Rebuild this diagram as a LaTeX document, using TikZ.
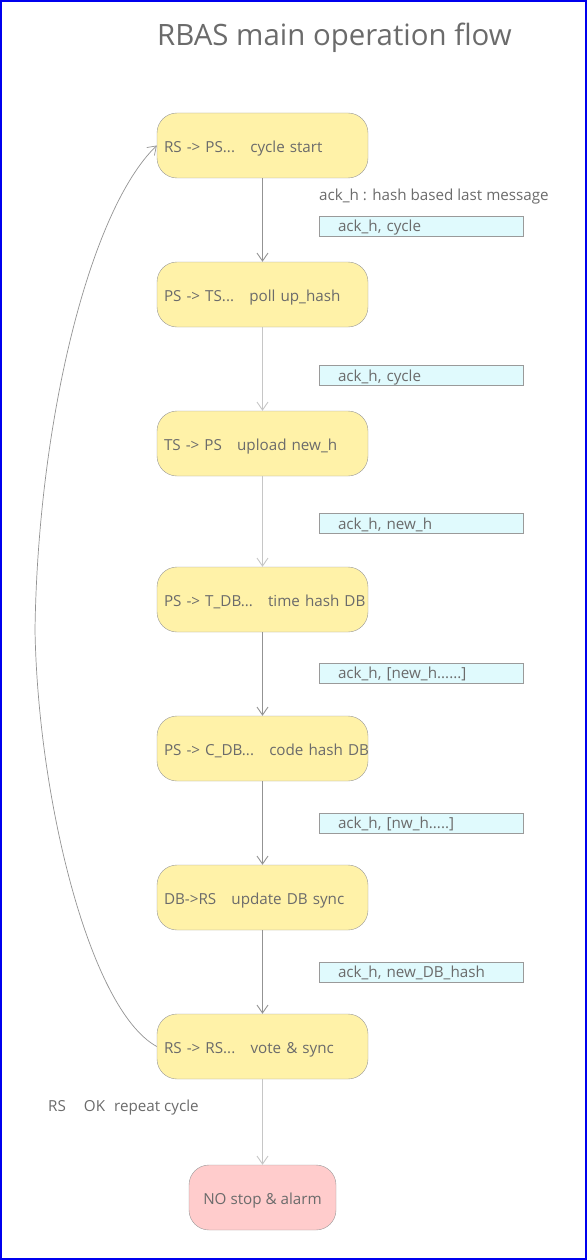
\documentclass[tikz,border=0pt]{standalone}
\usepackage{fontspec}
\setmainfont{Open Sans}
\usetikzlibrary{arrows.meta}
\definecolor{txt}{HTML}{6B6B6B}
\definecolor{yel}{HTML}{FFF2A8}
\definecolor{redf}{HTML}{FFCCCC}
\definecolor{cyanf}{HTML}{E0FAFD}
\definecolor{bord}{HTML}{9A9A9A}
\definecolor{frame}{HTML}{0000EE}
\tikzset{
  basefont/.style={font=\fontsize{15.2pt}{18pt}\selectfont},
  stepbox/.style={draw=bord, fill=yel, rounded corners=20pt, minimum height=65pt,
    text width=197pt, inner xsep=7pt, inner ysep=0pt, align=left, text=txt, basefont,
    text height=14pt, text depth=0pt},
  endbox/.style={draw=bord, fill=redf, rounded corners=20pt, minimum height=65pt,
    minimum width=147pt, inner sep=0pt, align=center, text=txt, basefont,
    text height=13pt, text depth=0pt},
  tagbox/.style={draw=bord, fill=cyanf, minimum height=20pt, text width=166pt,
    inner xsep=19pt, inner ysep=0pt, align=left, text=txt, basefont,
    text height=12pt, text depth=1pt},
  flow/.style={draw=#1, line width=0.9pt, -{Straight Barb[length=8pt,width=11pt,line width=0.9pt]}},
  flow/.default={gray!80},
  plain/.style={text=txt, basefont, inner sep=0pt, anchor=west},
}
\begin{document}
\begin{tikzpicture}[x=1pt,y=-1pt]
\useasboundingbox (0,0) rectangle (587,1260);
\draw[frame, line width=2pt] (1,1) rectangle (586,1259);
\node[text=txt, font=\fontsize{29.4pt}{34pt}\selectfont, inner sep=0pt, anchor=west] (title) at (157,38) {RBAS main operation flow};

\node[stepbox] (n1) at (262.5,145.5) {\mbox{RS -> PS...\ \ \ cycle start}};
\node[stepbox] (n2) at (262.5,294.5) {\mbox{PS -> TS...\ \ \ poll up\_hash}};
\node[stepbox] (n3) at (262.5,443.5) {\mbox{TS -> PS\ \ \ upload new\_h}};
\node[stepbox] (n4) at (262.5,599.5) {\mbox{PS -> T\_DB...\ \ \ time hash DB}};
\node[stepbox] (n5) at (262.5,748.5) {\mbox{PS -> C\_DB...\ \ \ code hash DB}};
\node[stepbox] (n6) at (262.5,897.5) {\mbox{DB->RS\ \ \ update DB sync}};
\node[stepbox] (n7) at (262.5,1046.5) {\mbox{RS -> RS...\ \ \ vote \& sync}};
\node[endbox] (n8) at (262.5,1197.5) {NO stop \& alarm};

\node[plain] (note) at (319,197) {ack\_h : hash based last message};
\node[tagbox] (t1) at (421,226) {ack\_h, cycle};
\node[tagbox] (t2) at (421,375.5) {ack\_h, cycle};
\node[tagbox] (t3) at (421,523.5) {ack\_h, new\_h};
\node[tagbox] (t4) at (421,673) {ack\_h, [new\_h......]};
\node[tagbox] (t5) at (421,823) {ack\_h, [nw\_h.....]};
\node[tagbox] (t6) at (421,972) {ack\_h, new\_DB\_hash};

\node[plain] (ok) at (48,1108) {RS\hspace{18pt}OK\hspace{9pt}repeat cycle};

\draw[flow={gray!85}] (n1) -- (n2);
\draw[flow={gray!45}] (n2) -- (n3);
\draw[flow={gray!45}] (n3) -- (n4);
\draw[flow={gray!85}] (n4) -- (n5);
\draw[flow={gray!85}] (n5) -- (n6);
\draw[flow={gray!85}] (n6) -- (n7);
\draw[flow={gray!45}] (n7) -- (n8);

\coordinate (lp) at (35,630);
\draw[draw=gray!85, line width=0.7pt, -{Straight Barb[length=8pt,width=11pt,line width=0.7pt]}]
  (n7.west) .. controls (90,1010) and (38,800) .. (lp)
  .. controls (38,420) and (90,210) .. (n1.west);
\end{tikzpicture}
\end{document}
